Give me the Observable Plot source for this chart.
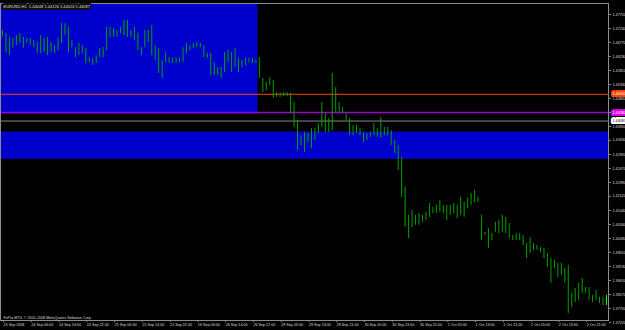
<!DOCTYPE html>
<html><head><meta charset="utf-8">
<script src="https://cdn.jsdelivr.net/npm/d3@7"></script>
<script src="https://cdn.jsdelivr.net/npm/@observablehq/plot@0.6"></script>
<style>html,body{margin:0;padding:0;background:#000;} svg{display:block}</style>
</head><body><div id="chart"></div>
<script>
// EURUSD H1 bars (high / low), 23 Sep 2008 – 2 Oct 2008
const highs = [
1.4717,1.4707,1.4694,1.4690,1.4700,1.4707,1.4694,1.4690,1.4690,1.4683,
1.4677,1.4700,1.4690,1.4694,1.4677,1.4666,1.4690,1.4741,1.4741,1.4728,
1.4683,1.4659,1.4673,1.4666,1.4656,1.4625,1.4622,1.4632,1.4656,1.4659,
1.4728,1.4728,1.4724,1.4717,1.4728,1.4752,1.4752,1.4717,1.4728,1.4707,
1.4659,1.4717,1.4717,1.4735,1.4666,1.4656,1.4615,1.4642,1.4625,1.4622,
1.4625,1.4622,1.4659,1.4673,1.4666,1.4673,1.4677,1.4673,1.4666,1.4639,
1.4639,1.4608,1.4591,1.4591,1.4642,1.4649,1.4642,1.4656,1.4622,1.4615,
1.4622,1.4622,1.4622,1.4615,1.4625,1.4554,1.4540,1.4557,1.4547,1.4506,
1.4503,1.4506,1.4506,1.4503,1.4472,1.4411,1.4359,1.4370,1.4366,1.4383,
1.4383,1.4400,1.4472,1.4434,1.4417,1.4571,1.4523,1.4472,1.4455,1.4434,
1.4417,1.4393,1.4393,1.4383,1.4370,1.4366,1.4370,1.4400,1.4383,1.4421,
1.4387,1.4387,1.4376,1.4342,1.4325,1.4284,1.4182,1.4087,1.4104,1.4087,
1.4093,1.4087,1.4097,1.4128,1.4114,1.4121,1.4138,1.4121,1.4121,1.4121,
1.4128,1.4121,1.4148,1.4131,1.4145,1.4162,1.4172,1.4148,1.4087,1.4029,
1.4042,1.4025,1.4063,1.4070,1.4087,1.4080,1.4059,1.4018,1.4025,1.4025,
1.4018,1.3991,1.4012,1.3991,1.3984,1.3977,1.3974,1.3957,1.3940,1.3933,
1.3923,1.3923,1.3906,1.3916,1.3821,1.3838,1.3855,1.3872,1.3841,1.3841,
1.3814,1.3831,1.3807,1.3807,1.3814
];
const lows = [
1.4694,1.4642,1.4632,1.4659,1.4666,1.4673,1.4656,1.4673,1.4666,1.4659,
1.4639,1.4639,1.4642,1.4632,1.4642,1.4639,1.4649,1.4673,1.4700,1.4642,
1.4659,1.4625,1.4632,1.4639,1.4605,1.4608,1.4598,1.4605,1.4625,1.4625,
1.4649,1.4694,1.4694,1.4694,1.4707,1.4700,1.4694,1.4694,1.4683,1.4649,
1.4632,1.4659,1.4677,1.4632,1.4615,1.4571,1.4554,1.4608,1.4605,1.4605,
1.4605,1.4608,1.4608,1.4639,1.4649,1.4656,1.4659,1.4659,1.4625,1.4622,
1.4564,1.4564,1.4564,1.4554,1.4574,1.4608,1.4574,1.4591,1.4574,1.4591,
1.4598,1.4608,1.4605,1.4605,1.4554,1.4506,1.4513,1.4530,1.4486,1.4489,
1.4489,1.4492,1.4492,1.4434,1.4387,1.4308,1.4325,1.4301,1.4335,1.4315,
1.4342,1.4366,1.4387,1.4370,1.4370,1.4376,1.4438,1.4438,1.4434,1.4411,
1.4359,1.4359,1.4366,1.4359,1.4335,1.4342,1.4353,1.4359,1.4353,1.4349,
1.4359,1.4359,1.4325,1.4298,1.4240,1.4148,1.4046,1.4008,1.4046,1.4053,
1.4053,1.4063,1.4070,1.4080,1.4093,1.4093,1.4097,1.4093,1.4070,1.4087,
1.4093,1.4076,1.4087,1.4080,1.4110,1.4121,1.4131,1.4131,1.4001,1.4018,
1.3974,1.4001,1.4029,1.4025,1.4029,1.4025,1.4008,1.4001,1.4001,1.4001,
1.3984,1.3940,1.3957,1.3967,1.3967,1.3960,1.3940,1.3909,1.3855,1.3906,
1.3875,1.3882,1.3855,1.3752,1.3773,1.3790,1.3797,1.3821,1.3821,1.3797,
1.3790,1.3797,1.3786,1.3780,1.3780
];
// Time-axis labels (one every 8 bars)
const timeLabelBars = [0,8,16,24,32,40,48,56,64,72,80,88,96,104,112,120,128,136,144,152,160,168];
const timeLabels = ["23 Sep 2008","24 Sep 06:00","24 Sep 14:00","24 Sep 22:00","25 Sep 06:00","25 Sep 14:00","25 Sep 22:00","26 Sep 06:00","26 Sep 14:00","26 Sep 22:00","29 Sep 05:00","29 Sep 13:00","29 Sep 21:00","30 Sep 05:00","30 Sep 13:00","30 Sep 21:00","1 Oct 05:00","1 Oct 13:00","1 Oct 21:00","2 Oct 05:00","2 Oct 13:00","2 Oct 21:00"];
// Price-axis tick values
const priceTicks = [1.47720,1.47240,1.46770,1.46290,1.45810,1.45330,1.44860,1.44380,1.43900,1.43430,1.42950,1.42470,1.41990,1.41520,1.41040,1.40560,1.40080,1.39610,1.39130,1.38650,1.38170,1.37700,1.37220];
// Rectangle zones (bar index from/to, price high/low)
const zoneFrom = [-5, -5];
const zoneTo = [73.6, 200];
const zoneHigh = [1.5000, 1.4371];
const zoneLow = [1.4432, 1.4278];
// Horizontal levels
const orangeLevel = [1.4500];
const violetLevel = [1.4438];
const bidLevel = [1.44087];
const titleText = ["EURUSD,H1  1.44048 1.44126 1.44024 1.44087"];
const copyrightText = ["FxPro MT4, \u00a9 2001-2008 MetaQuotes Software Corp."];

const bars = highs.map((h, i) => ({i, high: h, low: lows[i]}));
const zones = zoneFrom.map((f, k) => ({x1: f, x2: zoneTo[k], y1: zoneLow[k], y2: zoneHigh[k]}));
const font = "'Liberation Sans', Arial, sans-serif";
const fs = 3.7;

const chart = Plot.plot({
  width: 625, height: 330,
  marginLeft: 0, marginRight: 17, marginTop: 3, marginBottom: 10,
  style: {background: "#000", color: "#fff", fontFamily: font, overflow: "visible"},
  x: {type: "linear", domain: [-0.576, 174.59], axis: null},
  y: {domain: [1.37285, 1.48095], axis: null},
  marks: [
    Plot.rect(zones, {x1: "x1", x2: "x2", y1: "y1", y2: "y2", fill: "#0000cd", clip: true}),
    Plot.ruleY(orangeLevel, {stroke: "#ff4500", strokeWidth: 1}),
    Plot.ruleY(violetLevel, {stroke: "#a000d0", strokeWidth: 1.4}),
    Plot.ruleY(bidLevel, {stroke: "#8a8a8a", strokeWidth: 1}),
    Plot.ruleX(bars, {x: "i", y1: "low", y2: "high", stroke: "#00a000", strokeWidth: 1}),
    Plot.ruleX(bars.slice(-1), {x: "i", y1: "low", y2: "high", stroke: "#00ff00", strokeWidth: 1}),
    Plot.frame({stroke: "#8c8c8c"}),
    Plot.axisY({anchor: "right", ticks: priceTicks, tickFormat: d => d.toFixed(5), tickSize: 2, tickPadding: 2, fontSize: fs, stroke: "#8c8c8c", fill: "#ddd"}),
    Plot.axisX({anchor: "bottom", ticks: timeLabelBars, tickFormat: (d, i) => timeLabels[i], tickSize: 2, tickPadding: 1, textAnchor: "start", dx: 1, fontSize: fs, stroke: "#8c8c8c", fill: "#ddd"}),
    Plot.text(orangeLevel, {y: d => d, text: d => d.toFixed(5), frameAnchor: "right", textAnchor: "start", dx: 4, fontSize: fs, fill: "#fff", stroke: "#ff4500", strokeWidth: 4, paintOrder: "stroke"}),
    Plot.text(violetLevel, {y: d => d, text: d => d.toFixed(5), frameAnchor: "right", textAnchor: "start", dx: 4, fontSize: fs, fill: "#fff", stroke: "#e000e0", strokeWidth: 4, paintOrder: "stroke"}),
    Plot.text(bidLevel, {y: d => d, text: d => d.toFixed(5), frameAnchor: "right", textAnchor: "start", dx: 4, fontSize: fs, fill: "#000", stroke: "#fff", strokeWidth: 4, paintOrder: "stroke"}),
    Plot.text(titleText, {text: d => d, frameAnchor: "top-left", textAnchor: "start", lineAnchor: "top", dx: 3, dy: 2, fontSize: 4, fill: "#ddd", stroke: "#101010", strokeWidth: 4, paintOrder: "stroke"}),
    Plot.text(copyrightText, {text: d => d, frameAnchor: "bottom-left", textAnchor: "start", lineAnchor: "bottom", dx: 3, dy: -2, fontSize: fs, fill: "#ddd"})
  ]
});
document.getElementById("chart").appendChild(chart);
</script></body></html>
